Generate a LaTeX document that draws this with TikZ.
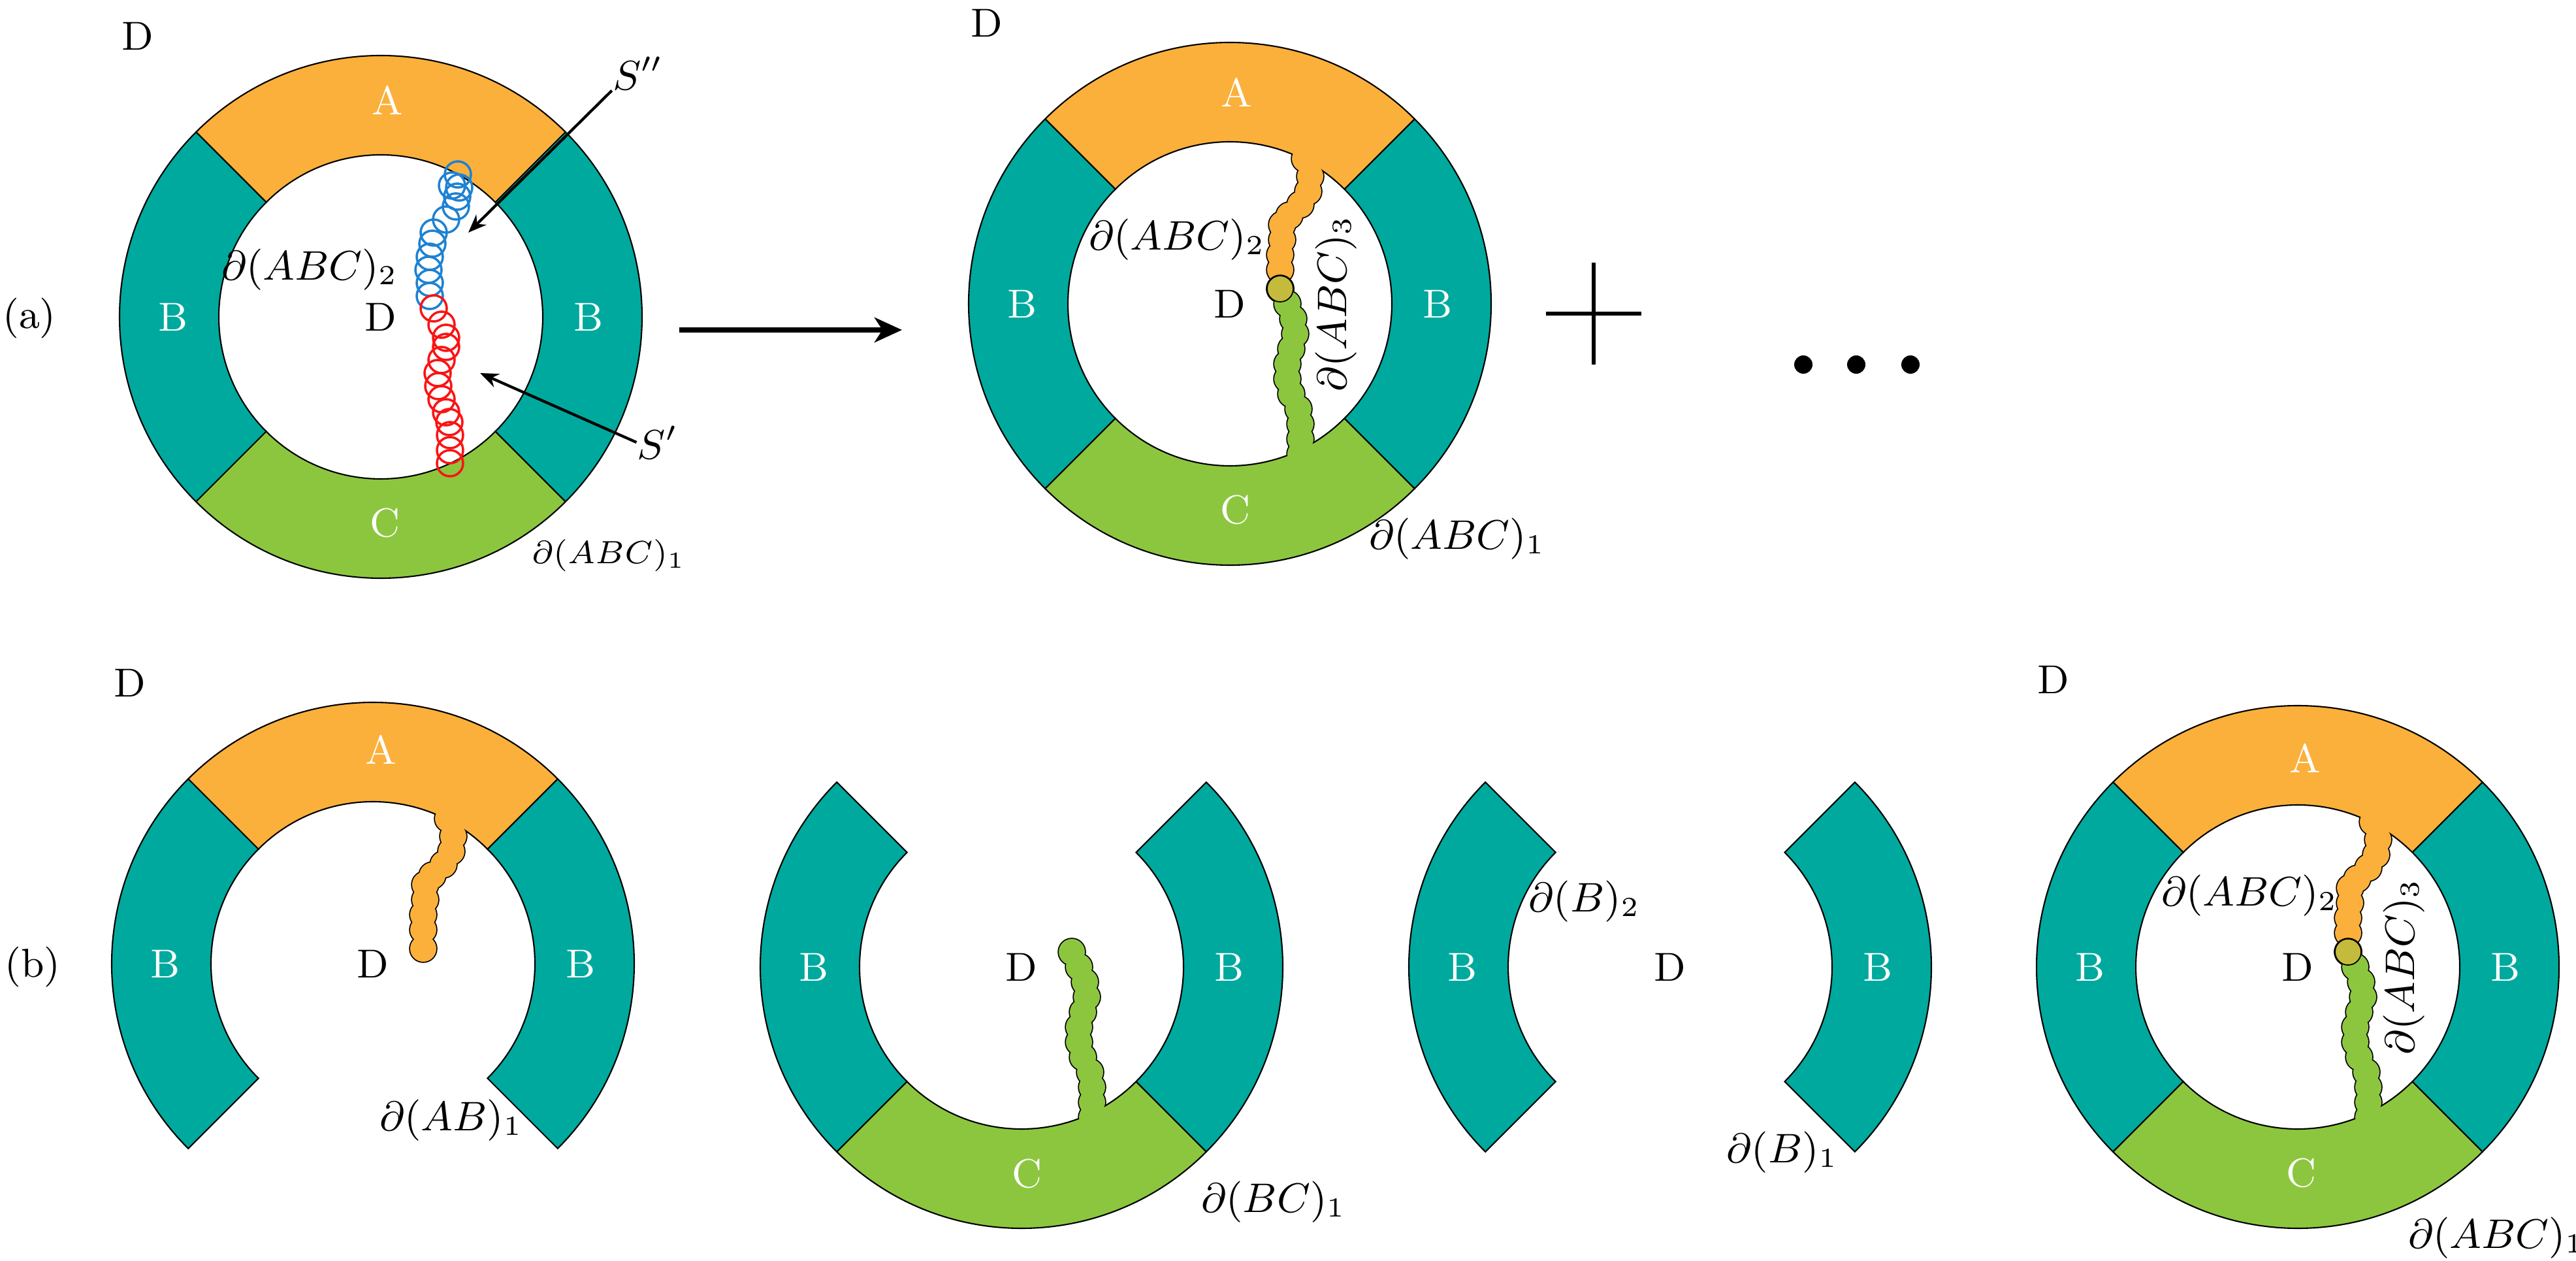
\documentclass[tikz,border=0pt]{standalone}
\usepackage{fontspec}
\usetikzlibrary{arrows.meta,calc}

\definecolor{regA}{RGB}{251,176,59}
\definecolor{regB}{RGB}{0,169,157}
\definecolor{regC}{RGB}{140,198,63}
\definecolor{regAC}{RGB}{196,187,61}
\definecolor{sblue}{RGB}{30,130,210}
\definecolor{sred}{RGB}{250,20,20}

\newcommand{\ringout}{2.0}
\newcommand{\ringin}{1.24}
\newcommand{\chainr}{0.1}

% annulus sector: centre, start angle, end angle, colour
\newcommand{\ringsector}[4]{%
  \filldraw[segline, fill=#4, shift={(#1)}] (#2:\ringout) arc[start angle=#2, end angle=#3, radius=\ringout]
    -- (#3:\ringin) arc[start angle=#3, end angle=#2, radius=\ringin] -- cycle;}

% chain of discs glued to the ring: centre, list, colour
\newcommand{\crack}[3]{%
  \begin{scope}[shift={(#1)}]
    \begin{scope}
      \clip (0,0) circle (\ringin);
      \foreach \x/\y in #2 {\draw[line width=0.5pt] (\x,\y) circle (\chainr);}
    \end{scope}
    \foreach \x/\y in #2 {\fill[#3] (\x,\y) circle (\chainr);}
  \end{scope}}

\newcommand{\orangechain}{0.575/1.11, 0.615/0.975, 0.6/0.86, 0.54/0.76, 0.455/0.675, 0.40/0.605, 0.40/0.49, 0.385/0.375, 0.385/0.26, 0.385/0.115}
\newcommand{\greenchain}{0.385/0.115, 0.44/0, 0.485/-0.115, 0.5/-0.23, 0.47/-0.345, 0.44/-0.46, 0.44/-0.575, 0.47/-0.69, 0.525/-0.805, 0.54/-0.92, 0.54/-1.035, 0.54/-1.15, 0.55/-1.25}
\newcommand{\bluechain}{0.59/1.09, 0.545/1.005, 0.60/0.99, 0.585/0.92, 0.575/0.845, 0.50/0.745, 0.405/0.645, 0.395/0.56, 0.375/0.46, 0.365/0.36, 0.375/0.26, 0.375/0.16}
\newcommand{\redchain}{0.405/0.065, 0.465/-0.06, 0.50/-0.16, 0.50/-0.23, 0.465/-0.33, 0.435/-0.43, 0.44/-0.53, 0.465/-0.63, 0.50/-0.73, 0.525/-0.805, 0.53/-0.905, 0.53/-1.02, 0.53/-1.12}

\begin{document}
\begin{tikzpicture}[>=Stealth, every node/.style={font=\fontsize{8.8}{10.5}\selectfont, inner sep=0pt}]
  % Styles
  \tikzset{
    segline/.style={draw=black, line width=0.3pt},
    wlab/.style={text=white},
    smalllab/.style={font=\fontsize{7.3}{9}\selectfont},
    sarrow/.style={-{Stealth[length=1.4mm, width=1.1mm]}, line width=0.6pt},
    bigarrow/.style={-{Stealth[length=2.1mm, width=1.9mm, inset=0.6mm]}, line width=1.1pt}
  }
  \useasboundingbox (0,0) rectangle (19.72,-9.65);

  % Centres
  \coordinate (ca) at (2.915,-2.425);
  \coordinate (cb) at (9.415,-2.325);
  \coordinate (c1) at (2.855,-7.375);
  \coordinate (c2) at (7.82,-7.40);
  \coordinate (c3) at (12.785,-7.40);
  \coordinate (c4) at (17.59,-7.40);

  % Rings
  \foreach \s/\e/\c in {45/135/regA, 135/225/regB, 225/315/regC, -45/45/regB} {
    \ringsector{ca}{\s}{\e}{\c}
    \ringsector{cb}{\s}{\e}{\c}
    \ringsector{c4}{\s}{\e}{\c}
  }
  \foreach \s/\e/\c in {45/135/regA, 135/225/regB, -45/45/regB}
    \ringsector{c1}{\s}{\e}{\c};
  \foreach \s/\e/\c in {135/225/regB, 225/315/regC, -45/45/regB}
    \ringsector{c2}{\s}{\e}{\c};
  \foreach \s/\e/\c in {135/225/regB, -45/45/regB}
    \ringsector{c3}{\s}{\e}{\c};

  % Open chains S'' and S'
  \foreach \x/\y in \bluechain \draw[sblue, line width=0.5pt] ($(ca)+(\x,\y)$) circle (\chainr);
  \foreach \x/\y in \redchain \draw[sred, line width=0.5pt] ($(ca)+(\x,\y)$) circle (\chainr);

  % Glued chains
  \crack{cb}{\orangechain}{regA}
  \crack{cb}{\greenchain}{regC}
  \filldraw[fill=regAC, draw=black, line width=0.25pt] ($(cb)+(0.385,0.115)$) circle (\chainr);
  \crack{c4}{\orangechain}{regA}
  \crack{c4}{\greenchain}{regC}
  \filldraw[fill=regAC, draw=black, line width=0.25pt] ($(c4)+(0.385,0.115)$) circle (\chainr);
  \crack{c1}{\orangechain}{regA}
  \crack{c2}{\greenchain}{regC}

  % Row labels
  \node (rowa) at (0.225,-2.435) {(a)};
  \node (rowb) at (0.25,-7.40) {(b)};

  % Ring (a)
  \node (aDtop) at ($(ca)+(-1.86,2.15)$) {D};
  \node[wlab] (aA) at ($(ca)+(0.05,1.66)$) {A};
  \node[wlab] (aBl) at ($(ca)+(-1.59,0)$) {B};
  \node[wlab] (aBr) at ($(ca)+(1.59,0)$) {B};
  \node[wlab] (aC) at ($(ca)+(0.03,-1.575)$) {C};
  \node (aD) at (ca) {D};
  \node (adel2) at ($(ca)+(-0.545,0.36)$) {$\partial(ABC)_2$};
  \node[smalllab] (adel1) at ($(ca)+(1.745,-1.825)$) {$\partial(ABC)_1$};
  \node (sdd) at (4.885,-0.56) {$S''$};
  \node (sd) at (5.035,-3.385) {$S'$};
  \coordinate (sddtip) at (3.585,-1.78);
  \coordinate (sdtip) at (3.675,-2.855);
  \draw[sarrow] (sdd.south west) -- (sddtip);
  \draw[sarrow] (sd.west) -- (sdtip);

  % Arrow, plus and dots
  \coordinate (arrs) at (5.2,-2.525);
  \coordinate (arre) at (6.905,-2.525);
  \draw[bigarrow] (arrs) -- (arre);
  \coordinate (plus) at (12.2,-2.4);
  \draw[line width=0.8pt] ($(plus)+(-0.365,0)$) -- ($(plus)+(0.365,0)$);
  \draw[line width=0.8pt] ($(plus)+(0,-0.39)$) -- ($(plus)+(0,0.39)$);
  \foreach \x in {13.805,14.21,14.625} \fill (\x,-2.79) circle (0.07);

  % Ring (a) result
  \node (bDtop) at ($(cb)+(-1.86,2.15)$) {D};
  \node[wlab] (bA) at ($(cb)+(0.05,1.62)$) {A};
  \node[wlab] (bBl) at ($(cb)+(-1.59,0)$) {B};
  \node[wlab] (bBr) at ($(cb)+(1.59,0)$) {B};
  \node[wlab] (bC) at ($(cb)+(0.04,-1.575)$) {C};
  \node (bD) at (cb) {D};
  \node (bdel2) at ($(cb)+(-0.405,0.49)$) {$\partial(ABC)_2$};
  \node[rotate=90] (bdel3) at ($(cb)+(0.815,0)$) {$\partial(ABC)_3$};
  \node (bdel1) at ($(cb)+(1.74,-1.80)$) {$\partial(ABC)_1$};

  % Ring AB
  \node (oDtop) at ($(c1)+(-1.86,2.15)$) {D};
  \node[wlab] (oA) at ($(c1)+(0.06,1.64)$) {A};
  \node[wlab] (oBl) at ($(c1)+(-1.59,0)$) {B};
  \node[wlab] (oBr) at ($(c1)+(1.59,0)$) {B};
  \node (oD) at (c1) {D};
  \node (odel1) at ($(c1)+(0.6,-1.2)$) {$\partial(AB)_1$};

  % Ring BC
  \node[wlab] (gBl) at ($(c2)+(-1.59,0)$) {B};
  \node[wlab] (gBr) at ($(c2)+(1.59,0)$) {B};
  \node[wlab] (gC) at ($(c2)+(0.04,-1.58)$) {C};
  \node (gD) at (c2) {D};
  \node (gdel1) at ($(c2)+(1.93,-1.80)$) {$\partial(BC)_1$};

  % Ring B
  \node[wlab] (tBl) at ($(c3)+(-1.59,0)$) {B};
  \node[wlab] (tBr) at ($(c3)+(1.59,0)$) {B};
  \node (tD) at (c3) {D};
  \node (tdel2) at ($(c3)+(-0.655,0.5)$) {$\partial(B)_2$};
  \node (tdel1) at ($(c3)+(0.86,-1.42)$) {$\partial(B)_1$};

  % Ring ABC
  \node (fDtop) at ($(c4)+(-1.87,2.2)$) {D};
  \node[wlab] (fA) at ($(c4)+(0.055,1.6)$) {A};
  \node[wlab] (fBl) at ($(c4)+(-1.59,0)$) {B};
  \node[wlab] (fBr) at ($(c4)+(1.59,0)$) {B};
  \node[wlab] (fC) at ($(c4)+(0.025,-1.575)$) {C};
  \node (fD) at (c4) {D};
  \node (fdel2) at ($(c4)+(-0.37,0.545)$) {$\partial(ABC)_2$};
  \node[rotate=90] (fdel3) at ($(c4)+(0.815,0)$) {$\partial(ABC)_3$};
  \node (fdel1) at ($(c4)+(1.52,-2.075)$) {$\partial(ABC)_1$};
\end{tikzpicture}
\end{document}
